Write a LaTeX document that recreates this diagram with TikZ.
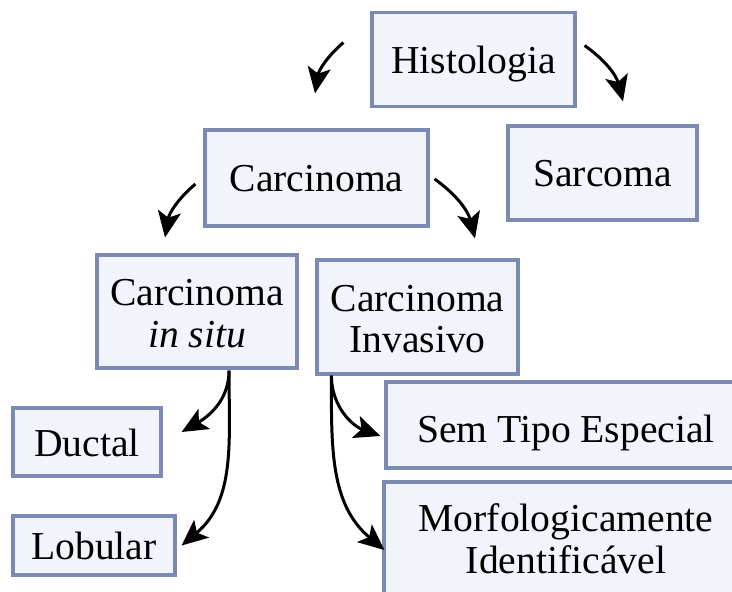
\documentclass[tikz,border=0pt]{standalone}
\usepackage{fontspec}
\setmainfont{Liberation Serif}
\usetikzlibrary{arrows.meta}
\definecolor{boxline}{RGB}{122,138,178}
\definecolor{boxfill}{RGB}{241,244,250}
\tikzset{
  caixa/.style={draw=boxline,fill=boxfill,line width=1.6pt,align=center,inner sep=0pt,
    text height=14pt,text depth=0pt},
  caixa2/.style={caixa,text height=36pt},
  seta/.style={line width=1.5pt,-{Stealth[length=13pt,width=11.5pt,inset=3pt]}}
}
\begin{document}
\begin{tikzpicture}[x=.5pt,y=-.5pt,font=\fontsize{19.8}{20.8}\selectfont]
\useasboundingbox (0,0) rectangle (732,592);
\clip (0,0) rectangle (732,592);
\node[caixa,minimum width=101.5pt,minimum height=47pt] (histo) at (473.5,59.5) {Histologia};
\node[caixa,minimum width=94.5pt,minimum height=47pt] (sarc) at (602.5,173) {Sarcoma};
\node[caixa,minimum width=111.5pt,minimum height=48pt] (carc) at (316.5,178) {Carcinoma};
\node[caixa2,minimum width=100pt,minimum height=56.5pt] (insitu) at (197,311.5) {Carcinoma\\\textit{in situ}};
\node[caixa2,minimum width=100.5pt,minimum height=57pt] (invas) at (417.5,317) {Carcinoma\\Invasivo};
\node[caixa,minimum width=74pt,minimum height=34pt] (ductal) at (87,442) {Ductal};
\node[caixa,minimum width=81pt,minimum height=29.5pt] (lobular) at (94,545.5) {Lobular};
\node[caixa,text height=17pt,minimum width=180pt,minimum height=43pt] (semtipo) at (566,425) {Sem Tipo Especial};
\node[caixa2,text height=28pt,minimum width=182pt,minimum height=63pt] (morfo) at (566,545) {Morfologicamente\\Identificável};
% setas
\draw[seta] ([shift={(-27,-17)}]histo.west) to[bend right=20] ([shift={(-1.5,-35)}]carc.north);
\draw[seta] ([shift={(8,-14)}]histo.east) to[bend left=20] ([shift={(20.5,-23)}]sarc.north);
\draw[seta] ([shift={(-8,6)}]carc.west) to[bend right=20] ([shift={(-32,-16)}]insitu.north);
\draw[seta] ([shift={(5,1)}]carc.east) to[bend left=20] ([shift={(57.5,-20)}]invas.north);
\draw[seta] ([shift={(32,1)}]insitu.south) to[out=-90,in=30] ([shift={(19,-10)}]ductal.east);
\draw[seta] ([shift={(32,1)}]insitu.south) to[out=-90,in=40] ([shift={(5,0)}]lobular.east);
\draw[seta] ([shift={(16,0)}]invas.south west) to[out=-90,in=160] ([shift={(-4,11)}]semtipo.west);
\draw[seta] ([shift={(16,0)}]invas.south west) to[out=-90,in=140] ([shift={(2,5)}]morfo.west);
\end{tikzpicture}
\end{document}
